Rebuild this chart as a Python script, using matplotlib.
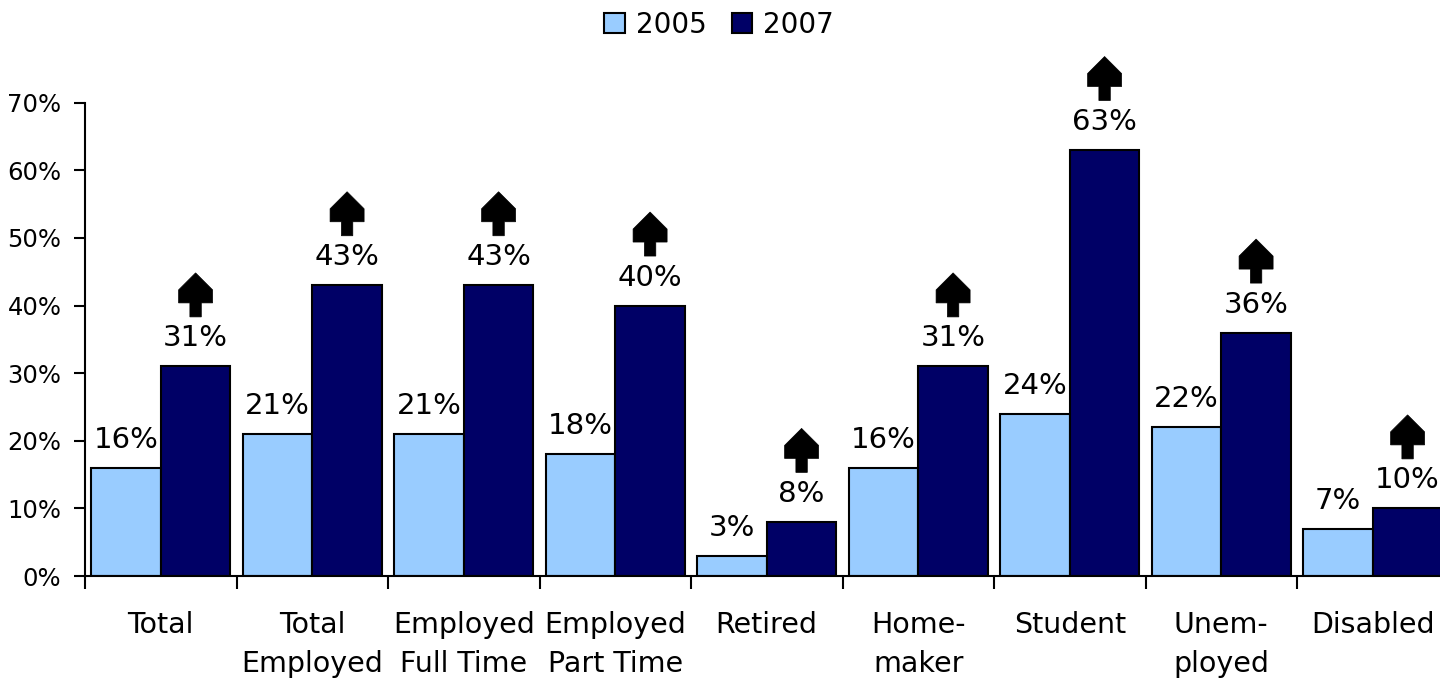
import matplotlib
matplotlib.use("Agg")
import matplotlib.pyplot as plt
import matplotlib.transforms as mtransforms
from matplotlib.patches import Polygon
from matplotlib.ticker import FuncFormatter, FixedLocator
import numpy as np

categories = ["Total", "Total\nEmployed", "Employed\nFull Time", "Employed\nPart Time",
              "Retired", "Home-\nmaker", "Student", "Unem-\nployed", "Disabled"]
values_2005 = [16, 21, 21, 18, 3, 16, 24, 22, 7]
values_2007 = [31, 43, 43, 40, 8, 31, 63, 36, 10]
series_names = ["2005", "2007"]
colors = ["#99CCFF", "#000066"]

plt.rcParams['font.family'] = ['DejaVu Sans']
DPI = 100
fig = plt.figure(figsize=(14.4, 6.8), dpi=DPI)
W, H = 1440, 680
left_px, bottom_px, top_px = 85, 576, 102.7
right_px = 85 + 9 * 151.5
ax = fig.add_axes([left_px / W, (H - bottom_px) / H, (right_px - left_px) / W,
                   (bottom_px - top_px) / H])

x = np.arange(len(categories))
bw = 0.46
b1 = ax.bar(x - bw / 2, values_2005, bw, color=colors[0], edgecolor="black",
            linewidth=1.5, label=series_names[0], zorder=2)
b2 = ax.bar(x + bw / 2, values_2007, bw, color=colors[1], edgecolor="black",
            linewidth=1.5, label=series_names[1], zorder=2)

ax.set_xlim(-0.5, len(categories) - 0.5)
ax.set_ylim(0, 70)
ax.set_yticks(np.arange(0, 71, 10))
ax.yaxis.set_major_formatter(FuncFormatter(lambda v, p: f"{int(v)}%"))
ax.tick_params(axis='y', direction='out', length=8, width=1.5, labelsize=17.5, pad=9)

ax.set_xticks(x)
ax.set_xticklabels(categories, fontsize=20.5, linespacing=1.5)
ax.tick_params(axis='x', which='major', length=0, pad=25.5)
ax.xaxis.set_minor_locator(FixedLocator(np.arange(-0.5, len(categories), 1.0)))
ax.tick_params(axis='x', which='minor', direction='out', length=9, width=1.5)

for s in ["top", "right"]:
    ax.spines[s].set_visible(False)
for s in ["left", "bottom"]:
    ax.spines[s].set_linewidth(1.5)

off_pt = 20 * 72 / DPI
for xi, v in zip(x - bw / 2, values_2005):
    ax.annotate(f"{v}%", (xi, v), xytext=(0, off_pt), textcoords="offset points",
                ha="center", va="baseline", fontsize=21)
for xi, v in zip(x + bw / 2, values_2007):
    ax.annotate(f"{v}%", (xi, v), xytext=(0, off_pt), textcoords="offset points",
                ha="center", va="baseline", fontsize=21)
    # up arrow (pixel offsets above bar top converted to inches)
    pts = [(-5.7, 49.5), (5.7, 49.5), (5.7, 63.5), (17, 63.5), (17, 76.5), (0, 93.5),
           (-17, 76.5), (-17, 63.5), (-5.7, 63.5)]
    pts_in = [(px / DPI, py / DPI) for px, py in pts]
    tr = fig.dpi_scale_trans + mtransforms.ScaledTranslation(xi, v, ax.transData)
    poly = Polygon(pts_in, closed=True, facecolor="black", edgecolor="black",
                   linewidth=0.5, transform=tr, clip_on=False, zorder=3)
    ax.add_artist(poly)

fig.legend(handles=[b1, b2], labels=series_names, loc="center",
           bbox_to_anchor=(719 / W, 1 - 25 / H), ncol=2, frameon=False,
           fontsize=20, handlelength=0.75, handleheight=0.75, handletextpad=0.4,
           columnspacing=0.9, borderaxespad=0)

fig.savefig("out.png", dpi=DPI)
